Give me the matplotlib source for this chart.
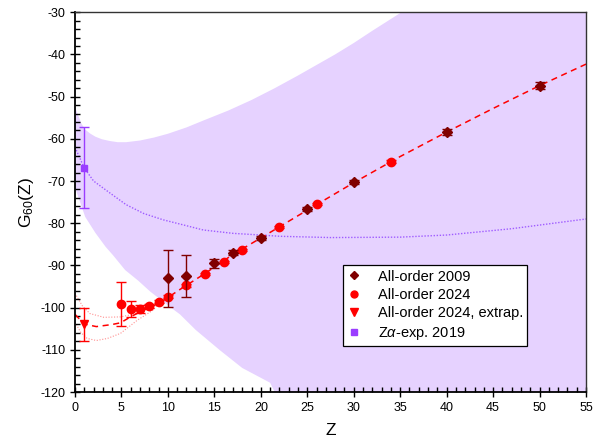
import numpy as np
import matplotlib
matplotlib.use("Agg")
import matplotlib.pyplot as plt
from matplotlib.ticker import MultipleLocator

plt.rcParams['font.family'] = ['Liberation Sans', 'DejaVu Sans']
plt.rcParams['mathtext.fontset'] = 'custom'
plt.rcParams['mathtext.rm'] = 'Liberation Sans'
plt.rcParams['mathtext.it'] = 'Liberation Sans:italic'
plt.rcParams['axes.unicode_minus'] = False

# all-order 2009
z_2009 = [10, 12, 15, 17, 20, 25, 30, 40, 50]
g_2009 = [-93.1, -92.5, -89.5, -87.0, -83.5, -76.7, -70.3, -58.4, -47.4]
e_2009 = [6.8, 5.0, 1.0, 0.6, 0.5, 0.5, 0.5, 0.8, 0.8]

# all-order 2024
z_2024 = [5, 6, 7, 8, 9, 10, 12, 14, 16, 18, 22, 26, 34]
g_2024 = [-99.2, -100.4, -100.3, -99.7, -98.6, -97.4, -94.7, -92.0, -89.2, -86.4, -80.9, -75.5, -65.4]
e_2024 = [5.2, 1.9, 1.0, 0.5, 0.4, 0.4, 0.4, 0.3, 0.3, 0.3, 0.3, 0.3, 0.3]

# all-order 2024, extrapolated
z_ext = [1]
g_ext = [-104.0]
e_ext = [3.8]

# Z alpha expansion 2019
z_za = [1]
g_za = [-66.9]
e_za = [9.6]

# fit curve (dashed) and its uncertainty (dotted)
z_fit = [0, 1, 2.3, 4, 4.9, 5.9, 7, 8, 9, 10, 11.3, 14, 17, 20, 25, 30, 35, 40, 45, 50, 55]
g_fit = [-101.6, -103.9, -104.5, -104.0, -103.6, -102.3, -101.0, -100.0, -99.0, -97.6, -95.7,
         -91.9, -87.4, -83.5, -76.9, -70.4, -64.2, -58.4, -52.8, -47.4, -42.3]
z_fit_hi = [0, 0.8, 1.6, 3.1, 4.9, 6.7, 8.1, 9]
g_fit_hi = [-96.6, -99.6, -101.4, -102.3, -102.2, -101.4, -100.2, -99.0]
z_fit_lo = [0, 0.6, 1.3, 2.3, 3.5, 4.9, 6.7, 8.4, 9]
g_fit_lo = [-103.4, -105.8, -107.3, -107.8, -107.3, -106.1, -103.0, -100.6, -99.0]

# Z alpha curve and band
z_za_curve = [0, 1, 2, 3.8, 5.5, 7.4, 9.5, 11.3, 13.8, 17, 20, 22.1, 27.5, 35, 40, 47, 55]
g_za_curve = [-62.0, -66.9, -70.0, -72.9, -75.6, -77.7, -79.2, -80.2, -81.6, -82.4, -82.8,
              -83.1, -83.4, -83.3, -82.8, -81.3, -79.0]
z_band_hi = [0, 0.3, 0.7, 1.1, 1.6, 2.2, 2.9, 3.7, 4.6, 5.5, 7, 8.5, 10, 12, 14, 16.5, 19,
             21.5, 24, 26, 28, 30, 32, 33.5, 35, 40, 55]
g_band_hi = [-52.4, -54.2, -56.4, -57.8, -58.7, -59.5, -60.1, -60.5, -60.8, -60.8, -60.4,
             -59.7, -58.8, -57.3, -55.5, -53.3, -50.8, -48.0, -45.0, -42.5, -40.0, -37.3,
             -34.4, -32.3, -30.2, -23.0, -2.0]
z_band_lo = [0, 1.1, 2.2, 3.3, 4.1, 5.4, 6.8, 8.1, 10.2, 11.3, 13, 15.6, 18, 21, 21.5, 30, 55]
g_band_lo = [-71.5, -78.5, -82.3, -85.6, -87.6, -91.1, -93.6, -96.2, -99.8, -101.6, -105.3,
             -110.1, -114.3, -117.8, -120.0, -131.0, -160.0]

dark = '#800000'
red = '#ff0000'
violet = '#9a3dff'
band = '#e6d2ff'

fig = plt.figure(figsize=(5.97, 4.43), dpi=100)
ax = fig.add_axes([0.1256, 0.1151, 0.856, 0.8573])

ax.fill(z_band_hi + z_band_lo[::-1], g_band_hi + g_band_lo[::-1],
        color=band, lw=0, zorder=0)
ax.plot(z_za_curve, g_za_curve, ls=(0, (1, 1.2)), color='#9f5cff', lw=1.0, zorder=1)

ax.plot(z_fit_hi, g_fit_hi, ls=(0, (1, 1.5)), color='#ff9090', lw=0.8, zorder=1)
ax.plot(z_fit_lo, g_fit_lo, ls=(0, (1, 1.5)), color='#ff9090', lw=0.8, zorder=1)
ax.plot(z_fit, g_fit, ls=(0, (4, 3)), color=red, lw=1.1, zorder=2)

ax.errorbar(z_2024, g_2024, yerr=e_2024, fmt='none', ecolor=red, elinewidth=1.0,
            capsize=3.5, capthick=1.0, zorder=3)
ax.plot(z_2024, g_2024, 'o', color=red, ms=6, mec=red, zorder=4)

ax.errorbar(z_2009, g_2009, yerr=e_2009, fmt='none', ecolor=dark, elinewidth=1.0,
            capsize=3.5, capthick=1.0, zorder=5)
ax.plot(z_2009, g_2009, 'D', color=dark, ms=5.2, mec=dark, zorder=6)

ax.errorbar(z_ext, g_ext, yerr=e_ext, fmt='none', ecolor=red, elinewidth=1.0,
            capsize=3.5, capthick=1.0, zorder=3)
ax.plot(z_ext, g_ext, 'v', color=red, ms=6, zorder=4)

ax.errorbar(z_za, g_za, yerr=e_za, fmt='none', ecolor=violet, elinewidth=1.0,
            capsize=3.5, capthick=1.0, zorder=3)
ax.plot(z_za, g_za, 's', color=violet, ms=5, zorder=4)

# legend handles
h1, = ax.plot([], [], 'D', color=dark, ms=4.5, label='All-order 2009')
h2, = ax.plot([], [], 'o', color=red, ms=5, label='All-order 2024')
h3, = ax.plot([], [], 'v', color=red, ms=5.5, label='All-order 2024, extrap.')
h4, = ax.plot([], [], 's', color=violet, ms=4.5, label='Z$\\alpha$-exp. 2019')
leg = ax.legend(handles=[h1, h2, h3, h4], loc='lower left',
                bbox_to_anchor=(0.524, 0.121), fontsize=10.5, frameon=True,
                fancybox=False, edgecolor='black', handlelength=1.0,
                handletextpad=1.1, borderpad=0.3, labelspacing=0.3,
                borderaxespad=0, framealpha=1)
leg.get_frame().set_linewidth(0.9)
leg.set_zorder(10)

ax.set_xlim(0, 55)
ax.set_ylim(-120, -30)
ax.xaxis.set_major_locator(MultipleLocator(5))
ax.xaxis.set_minor_locator(MultipleLocator(1))
ax.yaxis.set_major_locator(MultipleLocator(10))
ax.yaxis.set_minor_locator(MultipleLocator(2))
ax.tick_params(which='major', direction='inout', length=7, width=1, labelsize=9,
               top=False, right=False)
ax.tick_params(which='minor', direction='in', length=3.5, width=1, top=False, right=False)

for side in ['left', 'bottom']:
    ax.spines[side].set_linewidth(1.3)
for side in ['top', 'right']:
    ax.spines[side].set_linewidth(1.0)
    ax.spines[side].set_color('#333333')

ax.set_xlabel('Z', fontsize=12.5, labelpad=7)
ax.set_ylabel('G$_{60}$(Z)', fontsize=12.5, labelpad=3)

fig.savefig('out.png', dpi=100)
